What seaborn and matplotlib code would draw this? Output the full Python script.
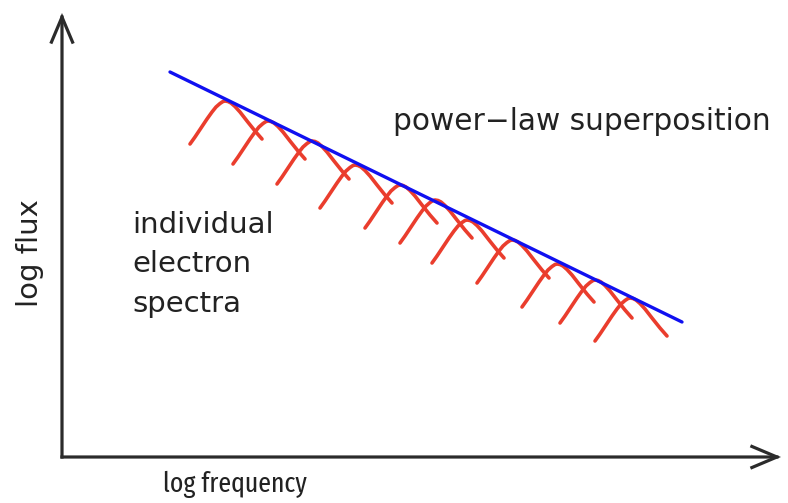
import matplotlib
matplotlib.use("Agg")
import matplotlib.pyplot as plt
from matplotlib.patches import FancyArrowPatch
from matplotlib import font_manager as fm
import seaborn as sns
import pandas as pd

# ---- data (arbitrary log units; origin at the axes corner) ----
# peak positions of the individual electron spectra
peak_logfreq = [163, 206, 250, 293, 338, 373, 405, 450, 495, 533, 568]
peak_logflux = [356, 336, 316, 292, 272, 257, 237, 217, 193, 177, 159]
# shape of one individual spectrum relative to its peak
arc_dx = [-35, -30, -24, -18, -13, -9, -5, -2, 0, 3, 6, 10, 15, 22, 30, 37]
arc_dy = [-43, -36, -27, -18, -11, -6, -2.5, -0.5, 0, -0.5, -2, -5.5, -11, -20, -30, -38]
# power-law superposition
line_logfreq = [108, 620]
line_logflux = [385, 135]

xlabel = "log frequency"
ylabel = "log flux"
label_powerlaw = "power\u2212law superposition"
label_individual = ["individual", "electron", "spectra"]

# ---- build tables ----
rows = []
for i, (px, py) in enumerate(zip(peak_logfreq, peak_logflux)):
    for dx, dy in zip(arc_dx, arc_dy):
        rows.append({"arc": i, "logfreq": px + dx, "logflux": py + dy})
arcs = pd.DataFrame(rows)
line = pd.DataFrame({"logfreq": line_logfreq, "logflux": line_logflux})

sns.set_theme(style="white")
plt.rcParams["font.family"] = ["DejaVu Sans"]

# find a narrow sans font (regular weight) for the x label
def pick_narrow():
    best, best_score = None, None
    for f in fm.fontManager.ttflist:
        n = f.name.lower()
        st = str(f.stretch).lower()
        if f.style != "normal" or f.weight not in (400, "normal", "regular"):
            continue
        if not ("narrow" in n or "condensed" in n or "condensed" in st):
            continue
        if "liberation" in n and "narrow" in n:
            rank = 0
        elif "extra" in n or "extra" in st:
            rank = 1
        elif "ultra" in n or "ultra" in st:
            rank = 3
        elif "semi" in n or "semi" in st:
            rank = 4
        else:
            rank = 2
        if best_score is None or rank < best_score:
            best, best_score = f, rank
    return best

narrow_font = pick_narrow()

fig = plt.figure(figsize=(7.88, 5.03), dpi=100)
ax = fig.add_axes([0, 0, 1, 1])
ax.set_xlim(-62, 726)
ax.set_ylim(-46, 457)
ax.axis("off")

sns.lineplot(data=arcs, x="logfreq", y="logflux", units="arc", estimator=None,
             sort=False, color="#ea3d2d", linewidth=2.6, ax=ax,
             solid_capstyle="round", solid_joinstyle="round")
sns.lineplot(data=line, x="logfreq", y="logflux", estimator=None, sort=False,
             color="#1010f0", linewidth=2.4, ax=ax, solid_capstyle="round")

# axes with open arrow heads
axis_color = "#2b2b2b"
style = "->,head_length=0.9,head_width=0.38"
ax.add_patch(FancyArrowPatch((0, 0), (0, 444), arrowstyle=style, mutation_scale=20,
                             color=axis_color, lw=2.3, shrinkA=0, shrinkB=0,
                             joinstyle="miter", capstyle="projecting"))
ax.add_patch(FancyArrowPatch((0, 0), (719, 0), arrowstyle=style, mutation_scale=20,
                             color=axis_color, lw=2.3, shrinkA=0, shrinkB=0,
                             joinstyle="miter", capstyle="projecting"))

text_color = "#222222"
ax.text(-32, 204, ylabel, rotation=90, ha="center", va="center",
        fontsize=21, color=text_color)

if narrow_font is not None:
    fp = fm.FontProperties(fname=narrow_font.fname, size=21)
else:
    fp = fm.FontProperties(family=["Liberation Sans", "DejaVu Sans"], size=21)
xl = ax.text(173, -35, xlabel, ha="center", va="baseline",
             color=text_color, fontproperties=fp)
# fit the label to its width in the reference (about 144 px), max 22 pt
renderer = fig.canvas.get_renderer()
w = xl.get_window_extent(renderer).width
xl.set_fontsize(min(22, 21 * 144.0 / w))

ax.text(331, 327, label_powerlaw, ha="left", va="baseline", fontsize=21.3,
        color=text_color)
for k, s in enumerate(label_individual):
    ax.text(70, 224 - 39.5 * k, s, ha="left", va="baseline", fontsize=21,
            color=text_color)

fig.savefig("out.png", dpi=100)
